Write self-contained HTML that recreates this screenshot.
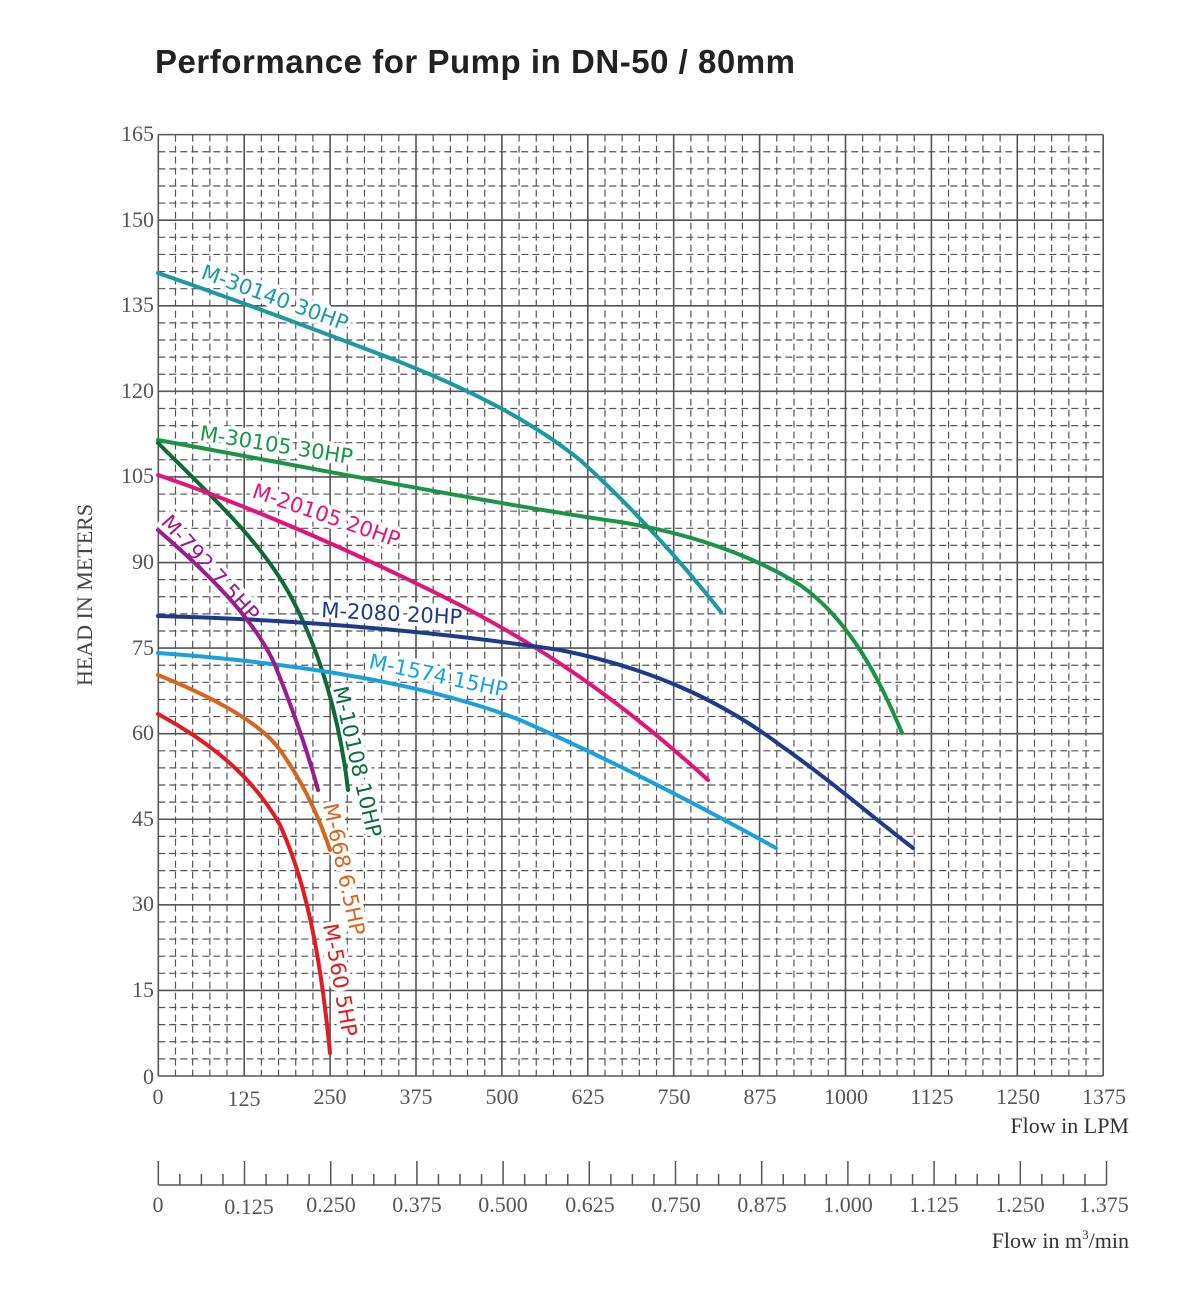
<!DOCTYPE html>
<html><head><meta charset="utf-8"><style>
html,body{margin:0;padding:0;background:#fff;width:1200px;height:1290px;overflow:hidden}
</style></head><body>
<svg width="1200" height="1290" xmlns="http://www.w3.org/2000/svg">
<text x="155" y="73" font-family="Liberation Sans, sans-serif" font-weight="bold" font-size="33" fill="#222" textLength="640">Performance for Pump in DN-50 / 80mm</text>
<g id="grid" stroke="#555" fill="none">
</g>
<script>
var g=document.getElementById('grid'),ns='http://www.w3.org/2000/svg';
var x0=158.3,y0=1076,xs=85.9/5,ys=85.58/5;
function ln(x1,y1,x2,y2,w,d){var l=document.createElementNS(ns,'line');l.setAttribute('x1',x1);l.setAttribute('y1',y1);l.setAttribute('x2',x2);l.setAttribute('y2',y2);l.setAttribute('stroke-width',w);if(d)l.setAttribute('stroke-dasharray',d);g.appendChild(l);}
var xr=x0+55*xs,yt=y0-55*ys;
for(var i=0;i<=55;i++){var x=x0+i*xs;if(i%5==0)ln(x,yt,x,y0,1.6);else ln(x,yt,x,y0,1.2,'7,4');}
for(var j=0;j<=55;j++){var y=y0-j*ys;if(j%5==0)ln(x0,y,xr,y,1.6);else ln(x0,y,xr,y,1.2,'7,4');}
ln(x0,1185,x0+11*86.2,1185,1.6);
for(var k=0;k<=44;k++){var x=x0+k*86.2/4;ln(x,1185,x,k%4==0?1161:1174,1.5);}
</script>
<g font-family="Liberation Serif, serif" font-size="22" fill="#555" text-anchor="end">
<text x="154" y="141">165</text><text x="154" y="227">150</text><text x="154" y="312">135</text>
<text x="154" y="398">120</text><text x="154" y="483">105</text><text x="154" y="569">90</text>
<text x="154" y="655">75</text><text x="154" y="740">60</text><text x="154" y="826">45</text>
<text x="154" y="911">30</text><text x="154" y="997">15</text><text x="154" y="1084">0</text>
</g>
<g font-family="Liberation Serif, serif" font-size="22" fill="#555" text-anchor="middle">
<text x="158" y="1104">0</text><text x="244" y="1106">125</text><text x="330" y="1104">250</text>
<text x="416" y="1104">375</text><text x="502" y="1104">500</text><text x="588" y="1104">625</text>
<text x="674" y="1104">750</text><text x="760" y="1104">875</text><text x="846" y="1104">1000</text>
<text x="932" y="1104">1125</text><text x="1018" y="1104">1250</text><text x="1104" y="1104">1375</text>
<text x="158" y="1212">0</text><text x="249" y="1214">0.125</text><text x="331" y="1212">0.250</text>
<text x="417" y="1212">0.375</text><text x="503" y="1212">0.500</text><text x="590" y="1212">0.625</text>
<text x="676" y="1212">0.750</text><text x="762" y="1212">0.875</text><text x="848" y="1212">1.000</text>
<text x="934" y="1212">1.125</text><text x="1020" y="1212">1.250</text><text x="1104" y="1212">1.375</text>
</g>
<g font-family="Liberation Serif, serif" font-size="22" fill="#333" text-anchor="end">
<text x="1129" y="1133">Flow in LPM</text>
<text x="1129" y="1248">Flow in m<tspan font-size="13" dy="-9">3</tspan><tspan dy="9">/min</tspan></text>
</g>
<text transform="translate(92,595) rotate(-90)" text-anchor="middle" font-family="Liberation Serif, serif" font-size="22" fill="#444">HEAD IN METERS</text>
<g font-family="DejaVu Sans, sans-serif" font-size="21" fill="#fff" stroke="#fff" stroke-width="8" stroke-linejoin="round">
<text transform="translate(200,278) rotate(20)">M-30140 30HP</text>
<text transform="translate(199,440) rotate(9)">M-30105 30HP</text>
<text transform="translate(251,497) rotate(19)">M-20105 20HP</text>
<text transform="translate(160,523) rotate(48)">M-792 7.5HP</text>
<text transform="translate(321,617) rotate(3)">M-2080 20HP</text>
<text transform="translate(368,668) rotate(12)">M-1574 15HP</text>
<text transform="translate(333,688) rotate(77)">M-10108 10HP</text>
<text transform="translate(323,805) rotate(78)">M-668 6.5HP</text>
<text transform="translate(323,925) rotate(80)">M-560 5HP</text>
</g>
<g fill="none" stroke-width="4" stroke-linecap="round" stroke-linejoin="round">
<path stroke="#1a9aa0" d="M158,273 C250,305 330,335 400,362 C470,390 530,420 580,460 C630,505 680,560 721,612"/>
<path stroke="#1a9447" d="M158,440 C300,466 500,505 620,522 C700,535 760,560 800,585 C850,620 880,680 902,733"/>
<path stroke="#0d6b3a" d="M158,443 C210,495 260,540 290,595 C320,650 340,720 348,790"/>
<path stroke="#e0157a" d="M158,475 C260,510 360,555 450,600 C540,645 620,700 708,780"/>
<path stroke="#1f3a8a" d="M158,616 C320,620 460,635 560,650 C650,668 720,700 780,745 C830,780 870,815 913,848"/>
<path stroke="#1aa0dc" d="M158,653 C300,663 430,685 520,720 C600,755 680,795 776,848"/>
<path stroke="#9b1c8c" d="M158,530 C210,575 255,620 275,665 C295,715 310,760 318,790"/>
<path stroke="#d4661e" d="M158,675 C220,700 262,725 280,750 C305,785 320,820 330,850"/>
<path stroke="#e01b22" d="M158,714 C215,745 255,780 280,825 C305,880 320,950 330,1053"/>
</g>
<g font-family="DejaVu Sans, sans-serif" font-size="21">
<text transform="translate(200,278) rotate(20)" fill="#1a9aa0">M-30140 30HP</text>
<text transform="translate(199,440) rotate(9)" fill="#1a9447">M-30105 30HP</text>
<text transform="translate(251,497) rotate(19)" fill="#e0157a">M-20105 20HP</text>
<text transform="translate(160,523) rotate(48)" fill="#9b1c8c">M-792 7.5HP</text>
<text transform="translate(321,617) rotate(3)" fill="#1f3a8a">M-2080 20HP</text>
<text transform="translate(368,668) rotate(12)" fill="#1aa0dc">M-1574 15HP</text>
<text transform="translate(333,688) rotate(77)" fill="#0d6b3a">M-10108 10HP</text>
<text transform="translate(323,805) rotate(78)" fill="#d4661e">M-668 6.5HP</text>
<text transform="translate(323,925) rotate(80)" fill="#e01b22">M-560 5HP</text>
</g>
</svg>
</body></html>
